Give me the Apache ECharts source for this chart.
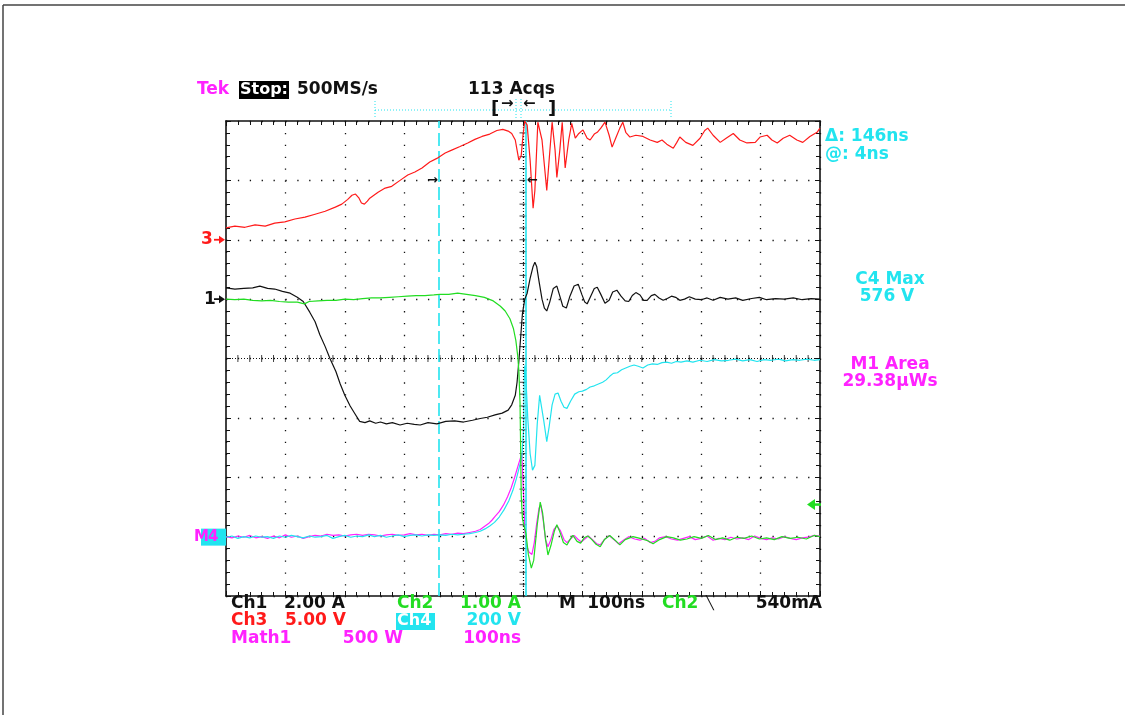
<!DOCTYPE html>
<html><head><meta charset="utf-8">
<script src="https://cdn.jsdelivr.net/npm/echarts@6.0.0/dist/echarts.min.js"></script>
<style>html,body{margin:0;padding:0;background:#fff;}#c{width:1125px;height:715px;}</style>
</head><body><div id="c"></div>
<script>
// time in ns (100 ns/div, trigger at centre), value in screen divisions (centre = 0)
const timeRange = [-500, 500];
const divRange = [-4, 4];

const ch3Trace = [[-500,2.20],[-485,2.23],[-468,2.21],[-451,2.25],[-434,2.23],[-418,2.28],[-401,2.30],[-384,2.35],[-367,2.38],[-350,2.43],[-333,2.48],[-316,2.55],[-305,2.60],[-295,2.68],[-288,2.75],[-282,2.77],[-276,2.70],[-272,2.62],[-267,2.60],[-262,2.65],[-258,2.70],[-244,2.80],[-232,2.87],[-221,2.90],[-207,3.00],[-194,3.09],[-182,3.14],[-170,3.21],[-157,3.31],[-145,3.37],[-131,3.46],[-120,3.51],[-106,3.57],[-93,3.63],[-81,3.69],[-69,3.74],[-56,3.78],[-44,3.84],[-34,3.86],[-25,3.83],[-19,3.79],[-13,3.68],[-10,3.51],[-7,3.34],[-3,3.42],[0,3.76],[3,4.0],[7,3.93],[12,3.34],[17,2.53],[20,2.83],[25,3.98],[32,3.68],[40,2.83],[49,3.98],[54,3.51],[57,3.05],[62,3.51],[66,3.98],[71,3.21],[77,3.68],[82,3.96],[88,3.71],[94,3.79],[101,3.85],[108,3.71],[113,3.68],[120,3.78],[125,3.81],[131,3.88],[138,3.98],[145,3.76],[150,3.56],[156,3.71],[163,3.88],[168,3.98],[173,3.81],[180,3.73],[190,3.76],[202,3.74],[214,3.68],[226,3.64],[234,3.68],[242,3.61],[253,3.54],[259,3.64],[264,3.73],[274,3.64],[286,3.59],[298,3.71],[306,3.84],[311,3.88],[320,3.76],[332,3.64],[342,3.71],[354,3.79],[365,3.68],[377,3.63],[391,3.64],[399,3.73],[411,3.76],[419,3.68],[428,3.63],[438,3.71],[449,3.76],[461,3.68],[471,3.64],[483,3.74],[495,3.81],[500,3.88]];

const ch1Trace = [[-500,1.19],[-485,1.17],[-470,1.18],[-455,1.19],[-443,1.22],[-430,1.18],[-418,1.17],[-405,1.13],[-392,1.10],[-380,1.03],[-370,0.96],[-359,0.78],[-350,0.62],[-342,0.40],[-333,0.20],[-325,0.00],[-315,-0.22],[-308,-0.42],[-300,-0.62],[-291,-0.80],[-283,-0.93],[-275,-1.06],[-266,-1.08],[-258,-1.05],[-248,-1.09],[-240,-1.07],[-230,-1.10],[-220,-1.08],[-207,-1.12],[-195,-1.09],[-183,-1.11],[-173,-1.12],[-160,-1.08],[-145,-1.10],[-130,-1.06],[-115,-1.05],[-100,-1.07],[-85,-1.04],[-72,-1.01],[-60,-0.99],[-47,-0.95],[-35,-0.92],[-25,-0.87],[-19,-0.78],[-13,-0.62],[-10,-0.40],[-7,-0.05],[-4,0.35],[-1,0.75],[3,1.00],[7,1.10],[12,1.35],[17,1.55],[20,1.62],[23,1.55],[27,1.30],[32,1.00],[36,0.85],[40,0.80],[45,0.95],[51,1.18],[57,1.22],[62,1.05],[67,0.88],[73,0.85],[79,1.05],[86,1.22],[93,1.25],[99,1.08],[104,0.95],[108,0.92],[114,1.05],[120,1.18],[125,1.20],[131,1.08],[138,0.93],[145,0.98],[151,1.12],[158,1.15],[165,1.05],[172,0.97],[178,0.96],[184,1.06],[190,1.11],[197,1.07],[203,0.98],[209,0.98],[216,1.06],[222,1.08],[229,1.02],[236,0.98],[243,1.01],[250,1.05],[257,1.03],[264,0.98],[272,1.00],[280,1.04],[290,1.00],[300,0.99],[310,1.02],[320,0.98],[332,1.03],[345,1.00],[358,1.02],[370,0.98],[385,1.01],[398,1.03],[410,0.99],[425,1.01],[440,1.00],[455,1.02],[470,0.99],[485,1.01],[500,1.00]];

const ch2Trace = [[-500,1.00],[-485,0.99],[-470,1.00],[-455,0.98],[-440,0.97],[-425,0.98],[-410,0.96],[-395,0.95],[-380,0.95],[-368,0.92],[-360,0.96],[-345,0.97],[-330,0.98],[-315,0.98],[-300,1.00],[-285,0.99],[-270,1.01],[-255,1.02],[-240,1.02],[-225,1.03],[-210,1.04],[-195,1.05],[-180,1.06],[-165,1.06],[-150,1.07],[-140,1.08],[-125,1.08],[-110,1.10],[-95,1.08],[-80,1.06],[-65,1.03],[-50,0.97],[-38,0.88],[-30,0.80],[-22,0.67],[-16,0.50],[-12,0.30],[-9,0.05],[-7,-0.20],[-5,-0.75],[-4,-1.50],[-3,-2.30],[-1,-2.70],[2,-2.72],[5,-2.95],[9,-3.30],[14,-3.53],[18,-3.40],[24,-2.80],[29,-2.42],[33,-2.60],[38,-3.05],[42,-3.31],[47,-3.15],[53,-2.90],[57,-2.80],[62,-2.92],[68,-3.10],[74,-3.14],[79,-3.05],[84,-2.98],[91,-3.08],[97,-3.11],[103,-3.02],[109,-2.99],[116,-3.05],[123,-3.13],[130,-3.17],[137,-3.05],[146,-2.98],[155,-3.06],[163,-3.14],[172,-3.05],[185,-3.00],[197,-3.03],[210,-3.07],[219,-3.12],[230,-3.05],[242,-3.00],[253,-3.02],[265,-3.06],[276,-3.04],[288,-3.00],[300,-3.03],[312,-2.98],[324,-3.05],[336,-3.02],[348,-3.06],[360,-3.01],[372,-3.03],[385,-2.99],[398,-3.04],[410,-3.02],[423,-3.05],[436,-3.00],[450,-3.03],[463,-3.01],[477,-3.04],[490,-2.98],[500,-3.00]];

const ch4Trace = [[-500,-3.01],[-490,-2.99],[-480,-3.03],[-470,-3.00],[-460,-3.02],[-450,-2.99],[-440,-3.01],[-430,-3.00],[-420,-3.03],[-410,-2.99],[-400,-3.01],[-390,-2.98],[-380,-3.00],[-370,-3.02],[-360,-2.99],[-350,-3.01],[-340,-3.00],[-330,-2.98],[-320,-3.03],[-310,-3.00],[-300,-2.98],[-290,-3.01],[-280,-2.99],[-270,-3.00],[-260,-2.97],[-250,-3.00],[-240,-2.98],[-230,-3.01],[-220,-2.99],[-210,-2.97],[-200,-3.00],[-190,-2.98],[-180,-2.97],[-170,-2.99],[-160,-2.97],[-150,-2.98],[-140,-2.97],[-130,-2.98],[-120,-2.96],[-110,-2.97],[-100,-2.96],[-90,-2.95],[-80,-2.93],[-72,-2.91],[-64,-2.87],[-56,-2.82],[-48,-2.76],[-40,-2.67],[-32,-2.55],[-24,-2.40],[-17,-2.22],[-11,-2.02],[-6,-1.82],[-2,-1.66],[1,-1.20],[2,-0.40],[3,-0.12],[5,-0.35],[8,-1.00],[12,-1.60],[16,-1.88],[20,-1.80],[24,-1.10],[28,-0.62],[31,-0.60],[35,-1.05],[40,-1.40],[44,-1.15],[49,-0.78],[54,-0.60],[59,-0.58],[64,-0.72],[69,-0.82],[74,-0.84],[80,-0.72],[87,-0.60],[94,-0.56],[100,-0.55],[107,-0.52],[113,-0.48],[120,-0.46],[127,-0.43],[134,-0.40],[140,-0.36],[146,-0.30],[152,-0.25],[159,-0.24],[166,-0.19],[173,-0.16],[180,-0.13],[187,-0.11],[194,-0.13],[202,-0.16],[210,-0.11],[218,-0.09],[226,-0.10],[234,-0.07],[242,-0.06],[250,-0.08],[258,-0.05],[266,-0.06],[276,-0.04],[286,-0.06],[298,-0.03],[310,-0.05],[322,-0.02],[334,-0.04],[346,-0.03],[358,-0.01],[370,-0.04],[382,-0.02],[394,-0.05],[406,-0.02],[418,-0.03],[430,-0.01],[442,-0.04],[454,-0.02],[466,-0.03],[478,-0.01],[490,-0.03],[500,-0.02]];

const math1Trace = [[-500,-3.00],[-490,-3.02],[-480,-2.99],[-470,-3.01],[-460,-2.98],[-450,-3.02],[-440,-3.00],[-430,-3.03],[-420,-2.99],[-410,-3.02],[-400,-2.97],[-390,-3.01],[-380,-2.99],[-370,-3.03],[-360,-3.00],[-350,-2.98],[-340,-2.99],[-330,-2.96],[-320,-2.98],[-310,-2.97],[-300,-2.99],[-290,-2.97],[-280,-2.96],[-270,-2.98],[-260,-2.96],[-250,-2.97],[-240,-2.99],[-230,-2.97],[-220,-2.96],[-210,-2.98],[-200,-2.97],[-190,-2.95],[-180,-2.97],[-170,-2.96],[-160,-2.98],[-150,-2.96],[-140,-2.97],[-130,-2.95],[-120,-2.96],[-110,-2.94],[-100,-2.95],[-90,-2.93],[-80,-2.91],[-72,-2.88],[-65,-2.83],[-58,-2.78],[-52,-2.72],[-47,-2.66],[-40,-2.58],[-33,-2.47],[-26,-2.33],[-20,-2.18],[-14,-2.00],[-9,-1.83],[-5,-1.70],[-2,-1.60],[0,-1.62],[1,-2.30],[3,-2.90],[6,-3.15],[10,-3.26],[15,-3.30],[19,-3.10],[23,-2.78],[27,-2.52],[30,-2.47],[34,-2.72],[38,-3.05],[42,-3.17],[47,-3.05],[52,-2.88],[57,-2.82],[63,-2.90],[69,-3.05],[74,-3.10],[80,-3.04],[86,-2.98],[92,-3.04],[98,-3.09],[104,-3.04],[110,-2.99],[117,-3.05],[124,-3.12],[130,-3.14],[137,-3.05],[145,-2.98],[153,-3.05],[161,-3.12],[169,-3.06],[178,-3.00],[188,-3.04],[197,-3.06],[205,-3.03],[214,-3.10],[222,-3.08],[230,-3.02],[240,-3.00],[250,-3.04],[260,-3.06],[270,-3.03],[280,-3.00],[290,-3.05],[300,-3.03],[310,-2.99],[320,-3.06],[330,-3.03],[340,-3.05],[350,-3.01],[360,-3.04],[370,-3.02],[380,-3.05],[390,-2.99],[400,-3.03],[410,-3.05],[420,-3.02],[430,-3.04],[440,-3.00],[450,-3.03],[460,-3.05],[470,-3.02],[480,-3.01],[490,-2.98],[500,-2.99]];

const cursorTimes = [-142, 4];          // ns
const refLevels = { ch3: 2, ch1: 1, ch4: -3 }; // divisions
const triggerLevel = -2.46;             // ch2 ground (-3 div) + 540 mA at 1 A/div

const topTexts = ['Tek', 'Stop:', '500MS/s', '113 Acqs'];
const readouts = ['\u0394: 146ns', '@: 4ns', 'C4 Max', '576 V', 'M1 Area', '29.38\u00b5Ws'];
const scaleLine1 = ['Ch1', '2.00 A', 'Ch2', '1.00 A', 'M', '100ns', 'Ch2', '\u2143', '540mA'];
const scaleLine2 = ['Ch3', '5.00 V', 'Ch4', '200 V'];
const scaleLine3 = ['Math1', '500 W', '100ns'];

const C = { red:'#ff1a1a', black:'#111111', green:'#22dd22', cyan:'#22e4ef', magenta:'#ff22ff' };
const FONT = '"DejaVu Sans", sans-serif';

const chart = echarts.init(document.getElementById('c'), null, { renderer: 'canvas' });

// graticule centre-line tick positions (1/5 division)
const hTicks = [], vTicks = [];
for (let k = 1; k < 50; k++) hTicks.push([timeRange[0] + k * 20, 0]);
for (let k = 1; k < 40; k++) vTicks.push([0, divRange[0] + k * 0.2]);

const dotted = { type: [1.3, 10.58], color: '#111', width: 1.3 };
function axisX(pos, split) {
  return { type:'value', min:timeRange[0], max:timeRange[1], interval:100, position:pos,
    axisLine:{ show:true, onZero:false, lineStyle:{ color:'#111', width:1.6 } },
    axisTick:{ show:true, inside:true, length:5, lineStyle:{ color:'#111' } },
    minorTick:{ show:true, splitNumber:5, length:4, lineStyle:{ color:'#111' } },
    axisLabel:{ show:false }, splitLine:{ show:split, lineStyle:dotted }, minorSplitLine:{show:false} };
}
function axisY(pos, split) {
  return { type:'value', min:divRange[0], max:divRange[1], interval:1, position:pos,
    axisLine:{ show:true, onZero:false, lineStyle:{ color:'#111', width:1.6 } },
    axisTick:{ show:true, inside:true, length:5, lineStyle:{ color:'#111' } },
    minorTick:{ show:true, splitNumber:5, length:4, lineStyle:{ color:'#111' } },
    axisLabel:{ show:false }, splitLine:{ show:split, lineStyle:dotted }, minorSplitLine:{show:false} };
}
function trace(name, data, color, z) {
  return { name, type:'line', data, xAxisIndex:0, yAxisIndex:0, showSymbol:false, symbol:'none',
    lineStyle:{ color, width:1.2 }, itemStyle:{ color }, clip:true, z, silent:true, animation:false };
}

chart.setOption({
  animation: false,
  backgroundColor: '#fff',
  grid: { left:226, top:121, width:594, height:475, containLabel:false },
  xAxis: [axisX('bottom', true), axisX('top', false)],
  yAxis: [axisY('left', true), axisY('right', false)],
  series: [
    { type:'scatter', data:hTicks, symbol:'rect', symbolSize:[1,7], itemStyle:{ color:'#111' }, silent:true, z:1,
      markLine:{ silent:true, symbol:'none', label:{show:false},
        lineStyle:{ color:'#111', type:[1,2], width:1.2 },
        data:[{ xAxis:0 }, { yAxis:0 }] } },
    { type:'scatter', data:vTicks, symbol:'rect', symbolSize:[7,1], itemStyle:{ color:'#111' }, silent:true, z:1 },
    trace('Math1', math1Trace, C.magenta, 3),
    Object.assign(trace('Ch4', ch4Trace, C.cyan, 4), {
      markLine:{ silent:true, symbol:'none', label:{show:false},
        data:[
          { xAxis:cursorTimes[0], lineStyle:{ color:C.cyan, type:[13,5], width:1.6 } },
          { xAxis:cursorTimes[1], lineStyle:{ color:C.cyan, type:'solid', width:1.6 } }
        ] } }),
    trace('Ch1', ch1Trace, C.black, 5),
    trace('Ch2', ch2Trace, C.green, 6),
    trace('Ch3', ch3Trace, C.red, 7)
  ]
});

function T(text, x, y, fill, opts) {
  opts = opts || {};
  return { type:'text', x, y, z:100, silent:true,
    style:{ text, fill, font:(opts.weight||'bold')+' '+(opts.size||17)+'px '+FONT,
      textAlign:opts.align||'left', align:opts.align||'left',
      textVerticalAlign:'middle', verticalAlign:'middle' } };
}
function L(x1, y1, x2, y2, stroke, w, dash) {
  return { type:'line', z:100, silent:true, shape:{ x1, y1, x2, y2 },
    style:{ stroke, lineWidth:w||1, lineDash:dash||null } };
}
function arrowRight(x, y, color) {
  return [L(x-11, y, x-5, y, color, 1.8),
    { type:'polygon', z:100, silent:true, shape:{ points:[[x,y],[x-6,y-4],[x-6,y+4]] }, style:{ fill:color } }];
}

const yPix = v => chart.convertToPixel({ yAxisIndex:0 }, v);
const y3 = yPix(refLevels.ch3), y1 = yPix(refLevels.ch1), y4 = yPix(refLevels.ch4), yT = yPix(triggerLevel);

const g = [
  // outer figure frame
  L(3, 5, 1125, 5, '#444', 1.5), L(3, 5, 3, 715, '#444', 1.5),
  // header
  T(topTexts[0], 197, 90, C.magenta),
  { type:'rect', z:99, silent:true, shape:{ x:239, y:81, width:50, height:18 }, style:{ fill:'#000' } },
  T(topTexts[1], 240, 90, '#fff', { size:16 }),
  T(topTexts[2], 297, 90, C.black),
  T(topTexts[3], 468, 90, C.black),
  // record / trigger position bar
  L(375, 110, 671, 110, C.cyan, 1, [1,2]),
  L(375, 101, 375, 119, C.cyan, 1, [1,2]), L(671, 101, 671, 119, C.cyan, 1, [1,2]),
  L(516, 99, 516, 119, C.cyan, 1, [1,2]), L(521, 99, 521, 119, C.cyan, 1, [1,2]),
  T('[', 491, 109, C.black, { size:18 }), T(']', 548, 109, C.black, { size:18 }),
  T('\u2192', 501, 104, C.black, { size:15 }), T('\u2190', 523, 104, C.black, { size:15 }),
  // in-plot cursor markers
  T('\u2192', 427, 181, C.black, { size:13 }), T('\u2190', 527, 181, C.black, { size:13 }),
  // right-hand readouts
  T(readouts[0], 825, 137, C.cyan), T(readouts[1], 825, 155, C.cyan),
  T(readouts[2], 890, 280, C.cyan, { align:'center' }), T(readouts[3], 887, 297, C.cyan, { align:'center' }),
  T(readouts[4], 890, 365, C.magenta, { align:'center' }), T(readouts[5], 890, 382, C.magenta, { align:'center' }),
  // ground markers
  T('3', 201, y3, C.red), ...arrowRight(225, y3, C.red),
  T('1', 204, y1, C.black), ...arrowRight(225, y1, C.black),
  { type:'rect', z:99, silent:true, shape:{ x:201, y:y4-8, width:25, height:17 }, style:{ fill:C.cyan } },
  T('M', 194, y4, C.magenta, { size:15 }), T('4', 208, y4, C.magenta, { size:15 }),
  // trigger level arrow
  { type:'polygon', z:100, silent:true, shape:{ points:[[807,yT],[815,yT-5.5],[815,yT+5.5]] }, style:{ fill:C.green } },
  L(814, yT, 821, yT, C.green, 2.5),
  // scale readouts
  T(scaleLine1[0], 231, 604, C.black), T(scaleLine1[1], 345, 604, C.black, { align:'right' }),
  T(scaleLine1[2], 397, 604, C.green), T(scaleLine1[3], 521, 604, C.green, { align:'right' }),
  T(scaleLine1[4], 559, 604, C.black), T(scaleLine1[5], 645, 604, C.black, { align:'right' }),
  T(scaleLine1[6], 662, 604, C.green), T('\u2572', 706, 604, C.black, { size:13 }),
  T(scaleLine1[8], 822, 604, C.black, { align:'right' }),
  T(scaleLine2[0], 231, 621, C.red), T(scaleLine2[1], 346, 621, C.red, { align:'right' }),
  { type:'rect', z:99, silent:true, shape:{ x:396, y:613, width:39, height:17 }, style:{ fill:C.cyan } },
  T(scaleLine2[2], 397, 621, '#fff', { size:16 }), T(scaleLine2[3], 521, 621, C.cyan, { align:'right' }),
  T(scaleLine3[0], 231, 639, C.magenta), T(scaleLine3[1], 403, 639, C.magenta, { align:'right' }),
  T(scaleLine3[2], 521, 639, C.magenta, { align:'right' })
];
chart.setOption({ graphic: g });
</script></body></html>
